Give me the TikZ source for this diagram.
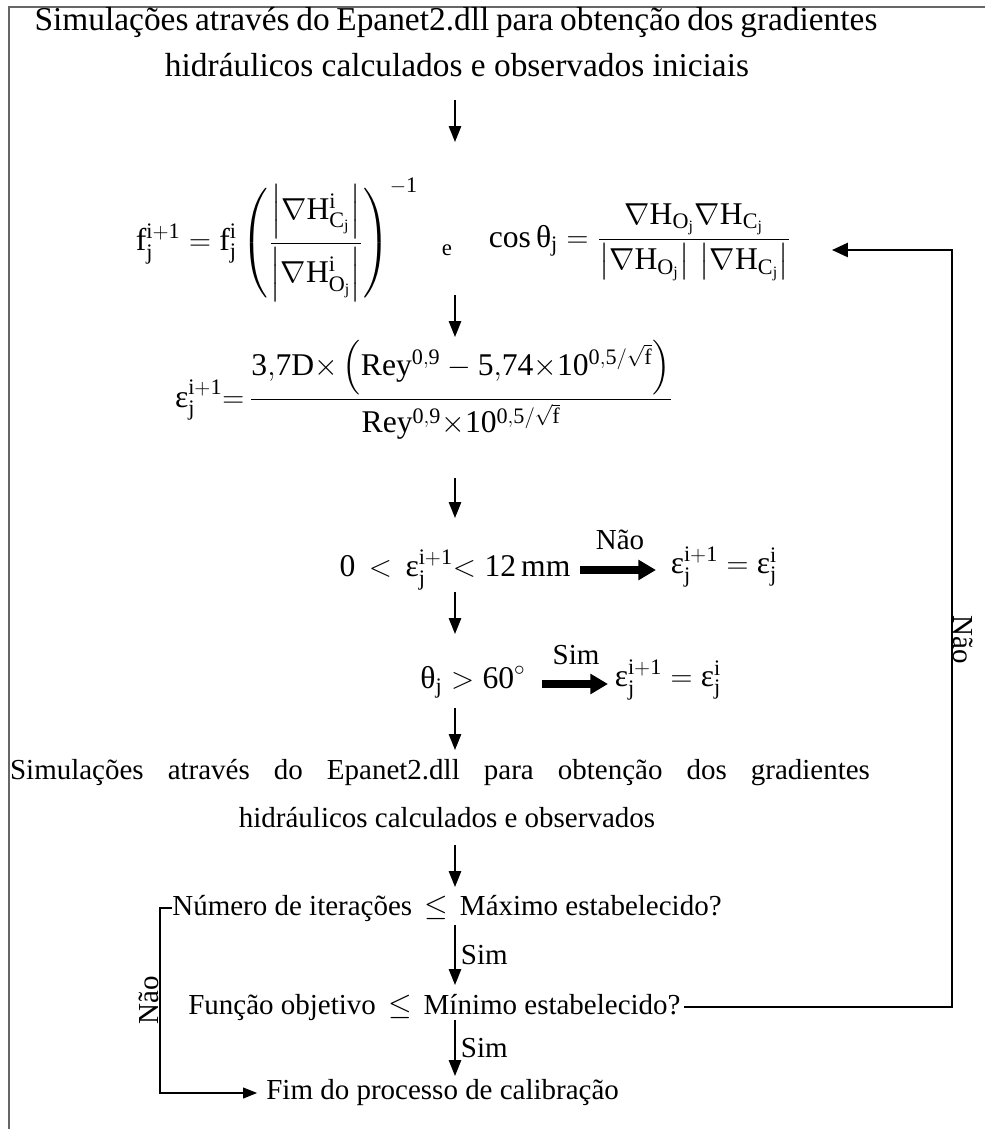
\documentclass[tikz,border=0pt]{standalone}
\usepackage{amsmath}
\usepackage{fontspec}
\setmainfont{Liberation Serif}
\usetikzlibrary{arrows.meta}
\newcommand\eps{\text{ε}}
\newcommand\thj{\text{θ}}

\begin{document}
\begin{tikzpicture}[
    x=0.02cm, y=-0.02cm,
    txt/.style={inner sep=0pt, font=\fontsize{16.5}{20}\selectfont},
    big/.style={inner sep=0pt, font=\fontsize{19}{23}\selectfont},
    eq/.style={inner sep=0pt, font=\fontsize{18}{21}\selectfont},
    arrow/.style={-{Triangle[length=9pt,width=7pt]}, line width=0.8pt},
    fat/.style={-{Triangle[length=10pt,width=11pt]}, line width=4.5pt},
    loop/.style={line width=1.2pt}
]
\useasboundingbox (0,0) rectangle (985,1129);

% Frame
\draw[gray!80!black, line width=1.2pt] (9,1129) -- (9,7) -- (985,7);

% First simulation
\node[big] (sim1a) at (456,22) {\makebox[16.86cm][s]{Simulações através do Epanet2.dll para obtenção dos gradientes}};
\node[big] (sim1b) at (457,65) {hidráulicos calculados e observados iniciais};

% Friction factor and angle
\node[eq] (ff) at (277,240) {$\displaystyle\mathrm{f_j^{i+1} = f_j^i\left(\frac{\left|\nabla H^i_{C_j}\right|}{\left|\nabla H^i_{O_j}\right|}\right)^{-1}}$};
\node[inner sep=0pt, font=\fontsize{13}{15}\selectfont] (and) at (447,250) {e};
\node[eq] (cos) at (640,242) {$\displaystyle\cos\thj\mathrm{_j = \frac{\nabla H_{O_j}\nabla H_{C_j}}{\left|\nabla H_{O_j}\right|\,\left|\nabla H_{C_j}\right|}}$};

% Roughness
\node[eq] (eps) at (424,390) {$\displaystyle\eps\mathrm{_j^{i+1}{=}\,\frac{3{,}7D{\times}\left(Rey^{0{,}9} - 5{,}74{\times}10^{0{,}5/\sqrt{f}}\right)}{Rey^{0{,}9}{\times}10^{0{,}5/\sqrt{f}}}}$};

% Limits
\node[eq] (lim) at (455,570) {$\mathrm{0}\,<\,\eps\mathrm{_j^{i+1}}{<}\;\mathrm{12\,mm}$};
\node[eq] (keep1) at (724,567) {$\eps\mathrm{_j^{i+1}}=\eps\mathrm{_j^i}$};
\node[txt] (nao1) at (620,540) {Não};

\node[eq] (ang) at (473,682) {$\thj\mathrm{_j} > \mathrm{60}^\circ$};
\node[eq] (keep2) at (668,680) {$\eps\mathrm{_j^{i+1}}=\eps\mathrm{_j^i}$};
\node[txt] (sim) at (576,655) {Sim};

% Second simulation
\node[txt] (sim2a) at (440,773) {\makebox[17.2cm][s]{Simulações através do Epanet2.dll para obtenção dos gradientes}};
\node[txt] (sim2b) at (447,818) {hidráulicos calculados e observados};

% Stop criteria
\node[txt, anchor=west] (iter) at (172,908) {Número de iterações\, $\leq$\, Máximo estabelecido?};
\node[txt, anchor=west] (obj) at (188,1007) {Função objetivo\, $\leq$\, Mínimo estabelecido?};
\node[txt, anchor=west] (fim) at (266,1093) {Fim do processo de calibração};

% Arrow ends
\coordinate (d1a) at (455,100);  \coordinate (d1b) at (455,142);
\coordinate (d2a) at (455,295);  \coordinate (d2b) at (455,337);
\coordinate (d3a) at (455,478);  \coordinate (d3b) at (455,518);
\coordinate (d4a) at (455,592);  \coordinate (d4b) at (455,634);
\coordinate (d5a) at (455,708);  \coordinate (d5b) at (455,750);
\coordinate (d6a) at (455,845);  \coordinate (d6b) at (455,887);
\coordinate (d7a) at (455,925);  \coordinate (d7b) at (455,985);
\coordinate (d8a) at (455,1020); \coordinate (d8b) at (455,1076);
\coordinate (t1a) at (580,570);  \coordinate (t1b) at (656,570);
\coordinate (t2a) at (542,684);  \coordinate (t2b) at (608,684);
\coordinate (rcorner) at (952,1007);
\coordinate (rin) at (832,250);
\coordinate (lcorner) at (160,908);

% Arrows - main path
\draw[arrow] (d1a) -- (d1b);
\draw[arrow] (d2a) -- (d2b);
\draw[arrow] (d3a) -- (d3b);
\draw[arrow] (d4a) -- (d4b);
\draw[arrow] (d5a) -- (d5b);
\draw[arrow] (d6a) -- (d6b);
\draw[arrow] (d7a) -- node[right=3pt, txt] (sim3) {Sim} (d7b);
\draw[arrow] (d8a) -- node[right=3pt, txt] (sim4) {Sim} (d8b);
\draw[fat] (t1a) -- (t1b);
\draw[fat] (t2a) -- (t2b);

% Feedback
\draw[loop, -{Triangle[length=9pt,width=8pt]}] ([xshift=2pt]obj.east) -- (rcorner) -- node[pos=0.485, txt, rotate=-90, anchor=south] (nao2) {Não} (rcorner |- rin) -- (rin);
\draw[loop, -{Triangle[length=8pt,width=6pt]}] (iter.west) -- (lcorner) -- node[midway, txt, rotate=90, anchor=south] (nao3) {Não} (lcorner |- fim) -- ([xshift=-5pt]fim.west);

\end{tikzpicture}
\end{document}
